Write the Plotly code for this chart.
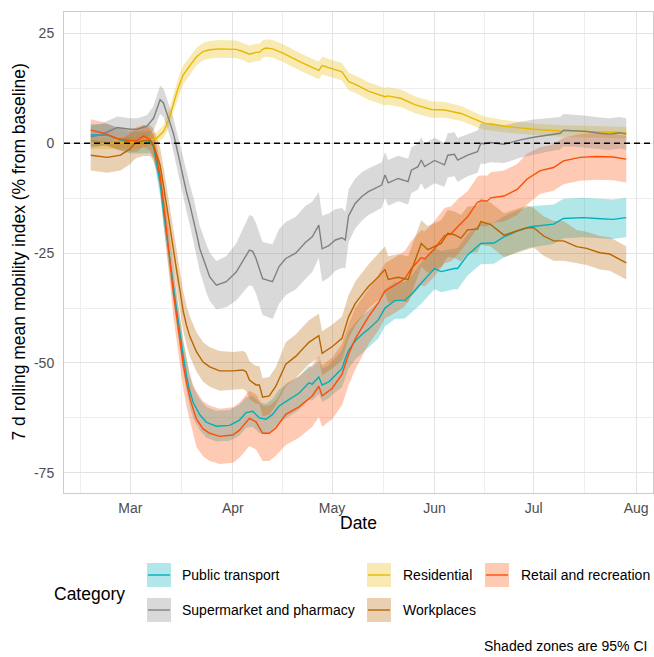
import plotly.graph_objects as go

# ---------------- data ----------------
pt_dates = ["2020-02-18","2020-02-23","2020-02-27","2020-03-01","2020-03-05","2020-03-07","2020-03-08","2020-03-09","2020-03-10","2020-03-11","2020-03-12","2020-03-13","2020-03-14","2020-03-15","2020-03-16","2020-03-17","2020-03-18","2020-03-19","2020-03-20","2020-03-22","2020-03-24","2020-03-27","2020-03-31","2020-04-02","2020-04-03","2020-04-05","2020-04-07","2020-04-09","2020-04-11","2020-04-13","2020-04-15","2020-04-17","2020-04-21","2020-04-24","2020-04-25","2020-04-27","2020-04-28","2020-04-30","2020-05-01","2020-05-04","2020-05-05","2020-05-06","2020-05-08","2020-05-10","2020-05-12","2020-05-15","2020-05-17","2020-05-20","2020-05-23","2020-05-25","2020-05-28","2020-06-01","2020-06-03","2020-06-07","2020-06-08","2020-06-11","2020-06-15","2020-06-19","2020-06-22","2020-06-26","2020-06-30","2020-07-07","2020-07-10","2020-07-16","2020-07-20","2020-07-25","2020-07-29"]
pt_vals = [1.9,1.9,0.8,0.2,0.2,0.3,-0.8,-4.6,-9.0,-15.5,-21.5,-27.0,-32.5,-38.0,-43.5,-48.5,-53.0,-56.5,-59.0,-61.8,-63.5,-64.4,-64.2,-63.5,-63.0,-61.3,-61.0,-62.5,-62.8,-61.7,-59.8,-58.8,-56.9,-54.5,-54.8,-53.2,-55.0,-54.3,-53.5,-51.3,-49.0,-47.1,-45.0,-43.5,-42.3,-40.2,-37.5,-35.8,-35.7,-34.4,-31.8,-28.5,-29.2,-28.5,-28.5,-25.4,-22.8,-22.7,-21.3,-20.0,-19.0,-18.4,-17.1,-16.9,-17.1,-17.3,-16.9]
pt_half = [2.5]*6 + [2.6,2.8,3.0,3.2] + [3.5]*9 + [3.5]*11 + [3.8]*9 + [4.2]*11 + [4.7]*11 + [4.5]*6

res_dates = ["2020-02-18","2020-02-24","2020-03-01","2020-03-05","2020-03-07","2020-03-09","2020-03-11","2020-03-12","2020-03-13","2020-03-14","2020-03-15","2020-03-16","2020-03-17","2020-03-19","2020-03-21","2020-03-23","2020-03-25","2020-03-28","2020-04-02","2020-04-04","2020-04-06","2020-04-08","2020-04-09","2020-04-10","2020-04-11","2020-04-13","2020-04-16","2020-04-22","2020-04-27","2020-04-28","2020-05-04","2020-05-06","2020-05-09","2020-05-12","2020-05-17","2020-05-18","2020-05-22","2020-05-26","2020-05-31","2020-06-04","2020-06-09","2020-06-16","2020-06-22","2020-07-01","2020-07-09","2020-07-17","2020-07-29"]
res_vals = [0.0,0.0,0.2,0.3,0.8,1.2,2.7,4.3,6.3,9.0,11.5,13.7,15.6,17.7,19.7,20.9,21.3,21.5,21.4,20.9,20.3,20.7,20.7,21.4,21.7,21.5,20.6,18.3,16.6,17.7,16.3,14.1,13.1,11.9,10.6,10.8,10.2,8.8,7.7,7.6,6.8,4.6,3.9,3.2,2.8,2.7,2.4]
res_half = [1.3]*6 + [1.5,1.8,2.0,2.2,2.3,2.3,2.2,2.1,2.0,2.0,2.0,2.0] + [2.0]*8 + [2.0]*4 + [2.0]*7 + [1.9,1.9,1.8] + [1.7,1.5,1.4,1.3,1.3,1.3,1.3]

rr_dates = ["2020-02-18","2020-02-22","2020-02-26","2020-03-01","2020-03-03","2020-03-05","2020-03-07","2020-03-08","2020-03-09","2020-03-10","2020-03-11","2020-03-12","2020-03-13","2020-03-14","2020-03-15","2020-03-16","2020-03-17","2020-03-18","2020-03-19","2020-03-20","2020-03-21","2020-03-23","2020-03-25","2020-03-28","2020-04-01","2020-04-03","2020-04-05","2020-04-06","2020-04-08","2020-04-10","2020-04-12","2020-04-14","2020-04-17","2020-04-21","2020-04-25","2020-04-27","2020-04-28","2020-05-01","2020-05-04","2020-05-06","2020-05-08","2020-05-12","2020-05-15","2020-05-17","2020-05-20","2020-05-23","2020-05-25","2020-05-28","2020-05-29","2020-06-01","2020-06-04","2020-06-06","2020-06-08","2020-06-11","2020-06-14","2020-06-15","2020-06-17","2020-06-18","2020-06-22","2020-06-26","2020-06-29","2020-07-03","2020-07-07","2020-07-10","2020-07-15","2020-07-20","2020-07-25","2020-07-29"]
rr_vals = [3.0,2.3,1.1,0.6,0.6,1.7,0.8,-0.5,-3.5,-7.5,-13.5,-20.5,-27.0,-34.0,-39.5,-45.0,-50.5,-54.5,-58.0,-60.5,-62.8,-65.0,-66.0,-66.7,-66.4,-65.3,-63.5,-62.6,-63.4,-66.0,-66.0,-64.8,-61.7,-60.0,-57.5,-55.3,-57.5,-55.8,-52.6,-48.0,-44.5,-39.5,-36.3,-33.6,-32.3,-30.8,-28.5,-26.0,-26.3,-24.0,-21.0,-20.6,-19.0,-16.7,-13.4,-13.1,-13.1,-12.4,-12.0,-10.5,-8.1,-6.2,-5.5,-4.0,-3.2,-3.0,-3.1,-3.6]
rr_half = [2.5]*7 + [2.7,3.0,3.5,4.0,4.5,5.0] + [5.5]*7 + [6.3]*12 + [7.0]*9 + [6.3]*12 + [5.8]*8 + [5.3]*7

sup_dates = ["2020-02-18","2020-02-21","2020-02-26","2020-03-01","2020-03-03","2020-03-06","2020-03-08","2020-03-09","2020-03-10","2020-03-11","2020-03-12","2020-03-13","2020-03-14","2020-03-15","2020-03-16","2020-03-17","2020-03-18","2020-03-19","2020-03-20","2020-03-21","2020-03-22","2020-03-24","2020-03-25","2020-03-27","2020-03-30","2020-04-02","2020-04-05","2020-04-06","2020-04-07","2020-04-08","2020-04-10","2020-04-13","2020-04-15","2020-04-17","2020-04-20","2020-04-23","2020-04-25","2020-04-27","2020-04-28","2020-04-30","2020-05-02","2020-05-04","2020-05-05","2020-05-06","2020-05-08","2020-05-10","2020-05-12","2020-05-16","2020-05-17","2020-05-18","2020-05-21","2020-05-24","2020-05-25","2020-05-27","2020-05-28","2020-05-29","2020-06-01","2020-06-04","2020-06-05","2020-06-07","2020-06-08","2020-06-11","2020-06-14","2020-06-15","2020-06-16","2020-06-18","2020-06-22","2020-06-27","2020-07-01","2020-07-05","2020-07-09","2020-07-10","2020-07-13","2020-07-17","2020-07-21","2020-07-24","2020-07-27","2020-07-29"]
sup_vals = [1.5,1.9,3.6,3.2,3.2,3.9,5.7,7.7,9.9,9.2,7.0,4.8,2.3,-1.0,-4.4,-8.0,-11.2,-14.0,-17.0,-20.5,-24.0,-28.5,-30.4,-32.3,-31.5,-29.3,-25.6,-24.3,-24.6,-26.2,-30.8,-31.5,-28.0,-26.2,-25.0,-22.5,-21.3,-18.6,-24.0,-23.3,-22.0,-21.5,-22.0,-16.5,-13.7,-12.1,-11.0,-9.5,-7.2,-9.0,-8.0,-8.7,-6.1,-5.3,-3.8,-5.3,-3.9,-4.9,-2.7,-2.5,-3.8,-2.7,-1.9,0.0,-0.1,0.2,-0.2,0.8,1.4,1.9,2.3,3.0,2.9,2.7,2.3,2.1,2.4,2.1]
sup_half = [2.5]*6 + [2.8,3.0,3.2,3.2,3.2,3.3] + [3.5,3.7,4.0,4.2,4.4,4.6,4.8,5.0,5.2] + [5.5,5.5,5.5,5.8] + [6.5,7.5,8.0,8.0,8.0,8.3,8.5] + [8.5,8.3,8.3,8.3,8.0,7.5,7.5,7.3] + [7.0,6.8,6.5,6.0,5.7,5.5,5.3] + [5.2]*9 + [5.2,5.0,5.0,5.0,5.0,4.8,4.8] + [4.6,4.6,4.5,4.3,4.1] + [4.0,3.8,3.7,3.7,3.7,3.6,3.6,3.6,3.6,3.6]

wp_dates = ["2020-02-18","2020-02-23","2020-02-27","2020-03-01","2020-03-02","2020-03-03","2020-03-05","2020-03-07","2020-03-08","2020-03-09","2020-03-10","2020-03-11","2020-03-12","2020-03-13","2020-03-14","2020-03-15","2020-03-16","2020-03-17","2020-03-18","2020-03-19","2020-03-21","2020-03-23","2020-03-25","2020-03-28","2020-04-01","2020-04-04","2020-04-05","2020-04-06","2020-04-08","2020-04-09","2020-04-10","2020-04-12","2020-04-14","2020-04-17","2020-04-20","2020-04-24","2020-04-27","2020-04-28","2020-05-01","2020-05-04","2020-05-06","2020-05-08","2020-05-10","2020-05-12","2020-05-15","2020-05-17","2020-05-18","2020-05-21","2020-05-24","2020-05-26","2020-05-28","2020-05-30","2020-06-01","2020-06-03","2020-06-05","2020-06-07","2020-06-09","2020-06-11","2020-06-14","2020-06-15","2020-06-18","2020-06-22","2020-06-26","2020-06-29","2020-07-01","2020-07-04","2020-07-07","2020-07-10","2020-07-14","2020-07-17","2020-07-21","2020-07-24","2020-07-29"]
wp_vals = [-2.7,-3.2,-2.7,-1.2,-0.3,0.2,0.6,0.6,-0.4,-2.5,-5.0,-9.5,-14.5,-20.0,-24.5,-29.0,-33.5,-38.3,-41.5,-44.0,-47.5,-49.8,-50.9,-51.8,-51.8,-51.6,-52.0,-53.9,-55.0,-55.0,-57.8,-57.5,-55.3,-50.3,-48.5,-45.3,-43.8,-47.8,-46.3,-44.4,-39.5,-36.5,-34.5,-32.6,-30.4,-28.7,-31.0,-30.5,-31.0,-27.0,-22.8,-24.2,-23.5,-22.8,-20.5,-20.8,-21.6,-19.7,-19.5,-17.8,-18.5,-20.9,-19.9,-19.2,-19.2,-21.1,-22.2,-22.2,-23.5,-23.9,-24.9,-25.2,-27.2]
wp_half = [3.5]*8 + [3.7,3.8,4.0,4.2,4.5,4.5] + [4.5]*10 + [4.3]*9 + [5.0]*11 + [5.3]*16 + [5.0]*4 + [4.5]*4 + [3.8]*5

categories = ["Public transport", "Residential", "Retail and recreation",
              "Supermarket and pharmacy", "Workplaces"]
line_colors = ["#00AFBB", "#E7B800", "#FC4E07", "#808080", "#B86500"]
series = [
    (pt_dates, pt_vals, pt_half),
    (res_dates, res_vals, res_half),
    (rr_dates, rr_vals, rr_half),
    (sup_dates, sup_vals, sup_half),
    (wp_dates, wp_vals, wp_half),
]

x_tick_vals = ["2020-03-01", "2020-04-01", "2020-05-01", "2020-06-01", "2020-07-01", "2020-08-01"]
x_tick_text = ["Mar", "Apr", "May", "Jun", "Jul", "Aug"]
x_minor_vals = ["2020-02-15", "2020-03-16 12:00", "2020-04-16", "2020-05-16 12:00", "2020-06-16", "2020-07-16 12:00"]
y_tick_vals = [-75, -50, -25, 0, 25]
y_minor_vals = [-62.5, -37.5, -12.5, 12.5]


def rgba(hex_color, a):
    h = hex_color.lstrip("#")
    r, g, b = int(h[0:2], 16), int(h[2:4], 16), int(h[4:6], 16)
    return f"rgba({r},{g},{b},{a})"


fig = go.Figure()

# ribbons (95% CI)
for (d, v, h), col in zip(series, line_colors):
    upper = [a + b for a, b in zip(v, h)]
    lower = [a - b for a, b in zip(v, h)]
    fig.add_trace(go.Scatter(
        x=d + d[::-1], y=upper + lower[::-1], fill="toself",
        fillcolor=rgba(col, 0.3), line=dict(width=0), mode="lines",
        hoverinfo="skip", showlegend=False))

# lines
for (d, v, h), col, name in zip(series, line_colors, categories):
    fig.add_trace(go.Scatter(x=d, y=v, mode="lines", name=name,
                             line=dict(color=col, width=1.4), showlegend=False))

FONT = "Liberation Sans, Arial, Helvetica, sans-serif"

# pixel -> paper helpers (panel: x 64..653, y 12..493)
def px(xp):
    return (xp - 64) / 589.0

def py(yp):
    return (493 - yp) / 481.0

shapes = [dict(type="line", xref="paper", yref="y", x0=0, x1=1, y0=0, y1=0,
               line=dict(color="black", width=1.5, dash="6px,4px"), layer="above")]
annotations = []

# manual legend (3 columns x 2 rows, as in ggplot)
key_cols = [147, 367, 485]
text_cols = [180, 401, 519]
rows = [(563, 587), (598, 622)]
positions = [(0, 0), (1, 0), (2, 0), (0, 1), (1, 1)]
for (ci, ri), name, col in zip(positions, categories, line_colors):
    x0, x1 = key_cols[ci], key_cols[ci] + 24
    y0, y1 = rows[ri]
    shapes.append(dict(type="rect", xref="paper", yref="paper",
                       x0=px(x0), x1=px(x1), y0=py(y1), y1=py(y0),
                       fillcolor=rgba(col, 0.3), line=dict(width=0)))
    ym = (y0 + y1) / 2
    shapes.append(dict(type="line", xref="paper", yref="paper",
                       x0=px(x0 + 1), x1=px(x1 - 1), y0=py(ym), y1=py(ym),
                       line=dict(color=col, width=1.4)))
    annotations.append(dict(text=name, xref="paper", yref="paper",
                            x=px(text_cols[ci]), y=py(ym), xanchor="left", yanchor="middle",
                            showarrow=False, font=dict(size=14, color="black", family=FONT)))

annotations.append(dict(text="Category", xref="paper", yref="paper", x=px(52), y=py(594),
                        xanchor="left", yanchor="middle", showarrow=False,
                        font=dict(size=17.5, color="black", family=FONT)))
annotations.append(dict(text="Shaded zones are 95% CI", xref="paper", yref="paper",
                        x=px(649), y=py(646), xanchor="right", yanchor="middle", showarrow=False,
                        font=dict(size=14, color="black", family=FONT)))
annotations.append(dict(text="Date", xref="paper", yref="paper", x=0.5, y=py(523),
                        xanchor="center", yanchor="middle", showarrow=False,
                        font=dict(size=17.5, color="black", family=FONT)))
annotations.append(dict(text="7 d rolling mean mobility index (% from baseline)",
                        xref="paper", yref="paper", x=px(18), y=0.5, textangle=-90,
                        xanchor="center", yanchor="middle", showarrow=False,
                        font=dict(size=17.5, color="black", family=FONT)))

grid_major = "#E3E3E3"
grid_minor = "#EEEEEE"

fig.update_layout(
    width=654, height=657,
    margin=dict(l=64, r=1, t=12, b=164),
    paper_bgcolor="white", plot_bgcolor="white",
    font=dict(family=FONT, size=14, color="black"),
    showlegend=False,
    shapes=shapes, annotations=annotations,
    xaxis=dict(
        type="date", range=["2020-02-09 22:00", "2020-08-06 02:00"],
        tickmode="array", tickvals=x_tick_vals, ticktext=x_tick_text,
        tickfont=dict(size=14, color="#4D4D4D", family=FONT),
        showgrid=True, gridcolor=grid_major, gridwidth=1.1,
        minor=dict(tickmode="array", tickvals=x_minor_vals, showgrid=True,
                   gridcolor=grid_minor, gridwidth=0.6),
        showline=True, mirror=True, linecolor="#CCCCCC", linewidth=1,
        ticks="", ticklabelstandoff=2, zeroline=False),
    yaxis=dict(
        range=[-79.6, 29.9],
        tickmode="array", tickvals=y_tick_vals, ticktext=[str(v) for v in y_tick_vals],
        tickfont=dict(size=14, color="#4D4D4D", family=FONT),
        showgrid=True, gridcolor=grid_major, gridwidth=1.1,
        minor=dict(tickmode="array", tickvals=y_minor_vals, showgrid=True,
                   gridcolor=grid_minor, gridwidth=0.6),
        showline=True, mirror=True, linecolor="#CCCCCC", linewidth=1,
        ticks="", ticklabelstandoff=6, zeroline=False),
)

fig.write_html("out.html", config={"displayModeBar": False},
               post_script="document.body.style.margin='0';document.body.style.overflow='hidden';")
